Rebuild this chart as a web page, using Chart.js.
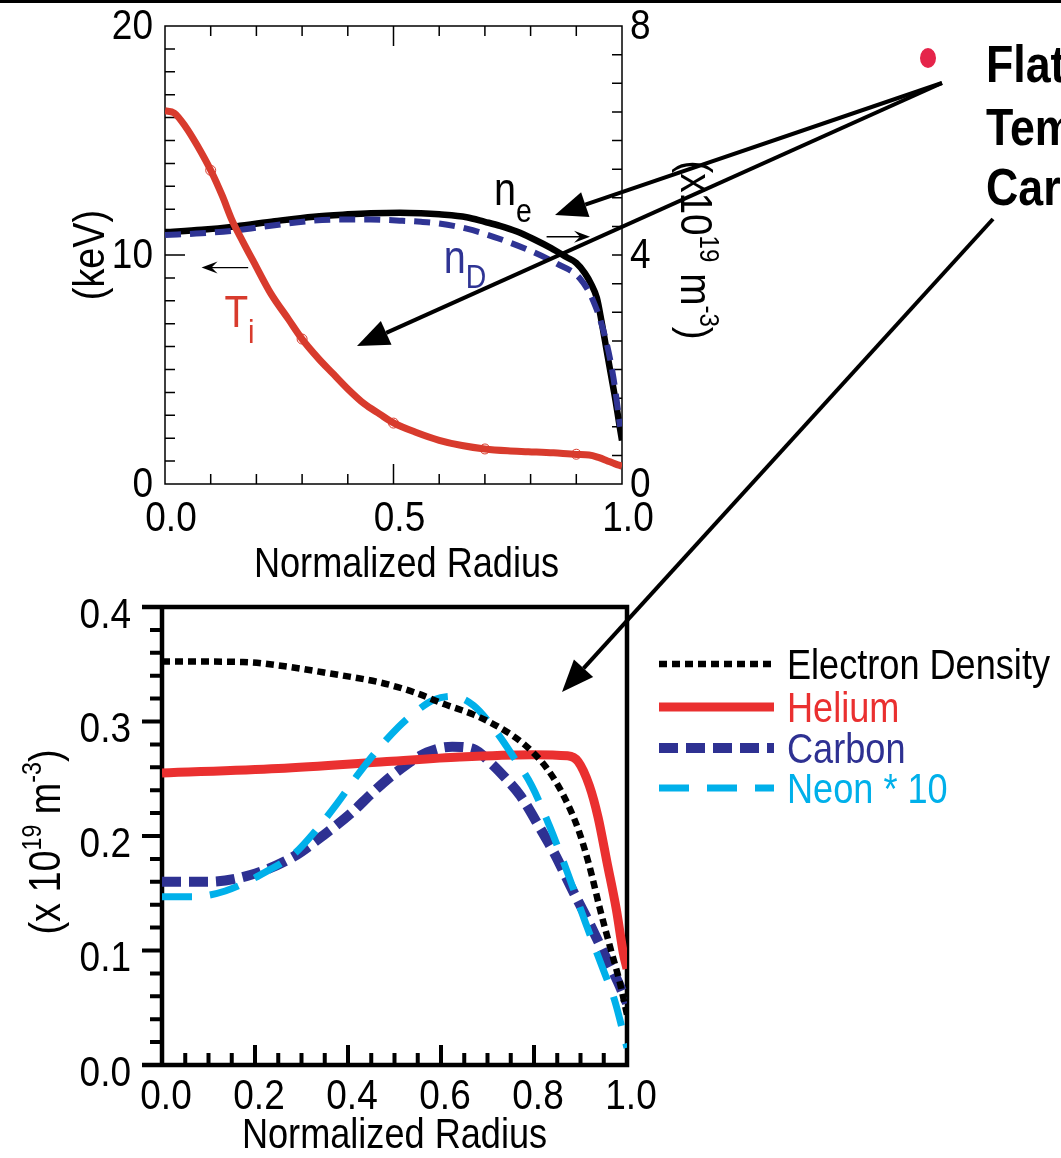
<!DOCTYPE html>
<html>
<head>
<meta charset="utf-8">
<script src="https://cdn.jsdelivr.net/npm/chart.js@4.4.1/dist/chart.umd.min.js"></script>
<style>
  html, body { margin: 0; padding: 0; background: #fff; }
  #page { position: relative; width: 1061px; height: 1158px; overflow: hidden; background: #fff; }
  #profiles { position: absolute; left: 0; top: 0; }
  #impurities { position: absolute; left: 0; top: 590px; }
  #notes { position: absolute; left: 0; top: 0; pointer-events: none; }
</style>
</head>
<body>
<div id="page">
  <canvas id="profiles" width="1061" height="590"></canvas>
  <canvas id="impurities" width="1061" height="568"></canvas>
  <canvas id="notes" width="1061" height="1158"></canvas>
</div>
<script>
const FONT = "'Liberation Sans', Arial, Helvetica, sans-serif";
const SQUEEZE = 0.86;   // narrow Helvetica look

// ---- upper panel: ion temperature (keV) and densities (1e19 m^-3) ----
const radiusTi = [0, 0.02, 0.045, 0.07, 0.1, 0.125, 0.147, 0.17, 0.194, 0.232, 0.27, 0.3, 0.335, 0.366, 0.4, 0.436, 0.47, 0.5, 0.55, 0.6, 0.65, 0.7, 0.75, 0.795, 0.85, 0.9, 0.928, 0.95, 0.967, 0.985, 1.0];
const ionTemp  = [16.3, 16.2, 15.6, 14.8, 13.7, 12.6, 11.5, 10.6, 9.7, 8.3, 7.2, 6.33, 5.5, 4.85, 4.15, 3.5, 3.05, 2.67, 2.25, 1.91, 1.68, 1.53, 1.45, 1.41, 1.36, 1.29, 1.27, 1.15, 1.02, 0.88, 0.78];

const markRadius = [0.1, 0.3, 0.5, 0.7, 0.9];
const markTemp   = [13.7, 6.33, 2.66, 1.53, 1.30];

const radiusNe = [0, 0.08, 0.155, 0.24, 0.326, 0.4, 0.45, 0.514, 0.56, 0.6, 0.66, 0.7, 0.733, 0.77, 0.806, 0.845, 0.879, 0.9, 0.919, 0.932, 0.945, 0.955, 0.966, 0.976, 0.986, 0.994, 1.0];
const densNe   = [4.40, 4.44, 4.50, 4.59, 4.67, 4.71, 4.73, 4.74, 4.73, 4.71, 4.66, 4.58, 4.51, 4.41, 4.28, 4.12, 3.96, 3.86, 3.68, 3.50, 3.25, 2.85, 2.35, 1.90, 1.45, 1.05, 0.76];

const radiusNd = [0, 0.08, 0.155, 0.24, 0.326, 0.4, 0.45, 0.514, 0.56, 0.6, 0.66, 0.733, 0.806, 0.857, 0.908, 0.937, 0.963, 0.981, 0.996];
const densNd   = [4.35, 4.38, 4.43, 4.52, 4.60, 4.62, 4.62, 4.60, 4.58, 4.55, 4.46, 4.28, 4.05, 3.85, 3.59, 3.20, 2.57, 1.87, 1.00];

const tempTicks = [0, 10, 20];
const densTicks = [0, 4, 8];

// ---- lower panel: impurity profiles (1e19 m^-3) ----
const radiusElec = [0, 0.174, 0.25, 0.36, 0.47, 0.546, 0.608, 0.67, 0.725, 0.779, 0.826, 0.864, 0.895, 0.919, 0.942, 0.965, 0.984, 1.0];
const elecDens   = [0.3525, 0.352, 0.349, 0.342, 0.334, 0.325, 0.315, 0.306, 0.295, 0.280, 0.260, 0.235, 0.206, 0.174, 0.136, 0.101, 0.073, 0.044];

const radiusHe = [0, 0.25, 0.484, 0.64, 0.795, 0.872, 0.895, 0.919, 0.938, 0.957, 0.977, 0.992, 1.0];
const heliumDens = [0.255, 0.259, 0.265, 0.269, 0.271, 0.270, 0.265, 0.244, 0.216, 0.177, 0.136, 0.098, 0.084];

const radiusC = [0, 0.097, 0.19, 0.283, 0.345, 0.407, 0.453, 0.508, 0.57, 0.624, 0.67, 0.709, 0.74, 0.771, 0.81, 0.845, 0.88, 0.919, 0.957, 0.98, 1.0];
const carbonDens = [0.160, 0.160, 0.166, 0.182, 0.200, 0.220, 0.238, 0.257, 0.273, 0.278, 0.276, 0.263, 0.250, 0.235, 0.209, 0.184, 0.155, 0.124, 0.092, 0.073, 0.054];

const radiusNeon = [0, 0.066, 0.136, 0.229, 0.283, 0.329, 0.376, 0.422, 0.461, 0.508, 0.547, 0.585, 0.624, 0.67, 0.717, 0.756, 0.795, 0.833, 0.872, 0.911, 0.95, 0.973, 1.0];
const neonDens10 = [0.147, 0.147, 0.152, 0.170, 0.184, 0.204, 0.228, 0.254, 0.274, 0.295, 0.309, 0.319, 0.322, 0.314, 0.292, 0.269, 0.244, 0.209, 0.168, 0.124, 0.082, 0.057, 0.015];

const speciesNames = ['Electron Density', 'Helium', 'Carbon', 'Neon * 10'];
const impurityTicks = [0, 0.1, 0.2, 0.3, 0.4];
const radiusTicks = [0, 0.2, 0.4, 0.6, 0.8, 1.0];

const RED_TI = '#d83b2d';
const BLUE_D = '#2f3494';
const RED_HE = '#ea3030';
const BLUE_C = '#2e3192';
const CYAN_NE = '#00b0ea';

const xy = (xs, ys) => xs.map((x, i) => ({ x, y: ys[i] }));

Chart.defaults.font.family = FONT;
Chart.defaults.color = '#000';

// plain text, narrowed horizontally
function text(ctx, str, x, y, size, o) {
  o = o || {};
  ctx.save();
  ctx.translate(x, y);
  ctx.rotate(o.angle || 0);
  ctx.scale(SQUEEZE, 1);
  ctx.font = (o.weight || '') + ' ' + size + 'px ' + FONT;
  ctx.fillStyle = o.color || '#000';
  ctx.textAlign = o.align || 'left';
  ctx.textBaseline = o.baseline || 'alphabetic';
  ctx.fillText(str, 0, 0);
  ctx.restore();
}

// text with superscript pieces, centred on (cx, cy), optionally rotated
function drawRich(ctx, parts, cx, cy, size, angle, color) {
  const small = Math.round(size * 0.62);
  ctx.save();
  ctx.translate(cx, cy);
  ctx.rotate(angle);
  ctx.scale(SQUEEZE, 1);
  ctx.fillStyle = color;
  ctx.textAlign = 'left';
  ctx.textBaseline = 'alphabetic';
  let w = 0;
  for (const [t, sup] of parts) {
    ctx.font = (sup ? small : size) + 'px ' + FONT;
    w += ctx.measureText(t).width;
  }
  let px = -w / 2;
  const base = size * 0.36;
  for (const [t, sup] of parts) {
    ctx.font = (sup ? small : size) + 'px ' + FONT;
    ctx.fillText(t, px, sup ? base - size * 0.42 : base);
    px += ctx.measureText(t).width;
  }
  ctx.restore();
}

// letter with a subscript, left edge at x, baseline at y
function drawSub(ctx, main, sub, x, y, size, subSize, drop, color) {
  ctx.save();
  ctx.translate(x, y);
  ctx.scale(SQUEEZE, 1);
  ctx.fillStyle = color;
  ctx.textAlign = 'left';
  ctx.textBaseline = 'alphabetic';
  ctx.font = size + 'px ' + FONT;
  ctx.fillText(main, 0, 0);
  const w = ctx.measureText(main).width;
  ctx.font = subSize + 'px ' + FONT;
  ctx.fillText(sub, w, drop);
  ctx.restore();
}

// thin arrow with a barbed head
function smallArrow(ctx, x0, y, x1) {
  const dir = Math.sign(x1 - x0);
  ctx.save();
  ctx.strokeStyle = '#000';
  ctx.fillStyle = '#000';
  ctx.lineWidth = 1.4;
  ctx.beginPath();
  ctx.moveTo(x0, y);
  ctx.lineTo(x1 - dir * 8, y);
  ctx.stroke();
  ctx.beginPath();
  ctx.moveTo(x1, y);
  ctx.lineTo(x1 - dir * 16, y - 6);
  ctx.lineTo(x1 - dir * 10, y);
  ctx.lineTo(x1 - dir * 16, y + 6);
  ctx.closePath();
  ctx.fill();
  ctx.restore();
}

const TICK_SIZE = 43;

const profileDecor = {
  id: 'profileDecor',
  beforeDatasetsDraw(chart) {
    const { ctx, chartArea: a, scales: { x, y, y1 } } = chart;
    ctx.save();
    ctx.strokeStyle = '#000';
    ctx.lineWidth = 1.5;
    ctx.strokeRect(a.left, a.top, a.right - a.left, a.bottom - a.top);
    ctx.beginPath();
    for (let k = 1; k < 20; k++) {
      const p = y.getPixelForValue(k);
      const len = k % 10 === 0 ? 20 : 10;
      ctx.moveTo(a.left, p); ctx.lineTo(a.left + len, p);
    }
    for (let k = 1; k < 16; k++) {
      const p = y1.getPixelForValue(k * 0.5);
      ctx.moveTo(a.right, p); ctx.lineTo(a.right - 10, p);
    }
    for (let k = 1; k < 10; k++) {
      const p = x.getPixelForValue(k / 10);
      const len = k === 5 ? 20 : 10;
      ctx.moveTo(p, a.bottom); ctx.lineTo(p, a.bottom - len);
      ctx.moveTo(p, a.top); ctx.lineTo(p, a.top + len);
    }
    ctx.stroke();
    ctx.restore();
  },
  afterDraw(chart) {
    const { ctx, chartArea: a, scales: { x, y, y1 } } = chart;
    const midY = (a.top + a.bottom) / 2;
    // tick labels from the scales
    x.ticks.forEach(t => text(ctx, t.value.toFixed(1), x.getPixelForValue(t.value) + 6, a.bottom + 35, TICK_SIZE,
      { align: 'center', baseline: 'middle' }));
    y.ticks.forEach(t => text(ctx, String(t.value), a.left - 12, y.getPixelForValue(t.value) + 1, TICK_SIZE,
      { align: 'right', baseline: 'middle' }));
    y1.ticks.forEach(t => text(ctx, String(t.value), a.right + 8, y1.getPixelForValue(t.value) + 1, TICK_SIZE,
      { align: 'left', baseline: 'middle' }));
    // axis titles
    drawRich(ctx, [['Normalized Radius', false]], (a.left + a.right) / 2 + 13, a.bottom + 78, 42, 0, '#000');
    drawRich(ctx, [['(keV)', false]], 88, midY, 44, -Math.PI / 2, '#000');
    drawRich(ctx, [['(x10', false], ['19', true], [' m', false], ['-3', true], [')', false]],
      a.right + 75, midY - 5, 45, Math.PI / 2, '#000');
    // curve labels
    drawSub(ctx, 'n', 'e', x.getPixelForValue(0.72), y.getPixelForValue(12.2), 46, 33, 17, '#000');
    drawSub(ctx, 'n', 'D', x.getPixelForValue(0.61), y.getPixelForValue(9.2), 46, 33, 15, BLUE_D);
    drawSub(ctx, 'T', 'i', x.getPixelForValue(0.13), y.getPixelForValue(6.85), 45, 34, 16, RED_TI);
    // which axis each family belongs to
    smallArrow(ctx, x.getPixelForValue(0.182), y.getPixelForValue(9.45), x.getPixelForValue(0.08));
    smallArrow(ctx, x.getPixelForValue(0.835), y.getPixelForValue(10.8), x.getPixelForValue(0.93));
  }
};

const hiddenTicks = { display: false };

new Chart(document.getElementById('profiles'), {
  type: 'line',
  data: {
    datasets: [
      { label: 'T_i points', data: xy(markRadius, markTemp), yAxisID: 'y', showLine: false,
        pointRadius: 5, pointBorderWidth: 1, pointBorderColor: RED_TI, pointBackgroundColor: 'rgba(0,0,0,0)', order: 0 },
      { label: 'T_i', data: xy(radiusTi, ionTemp), yAxisID: 'y', borderColor: RED_TI, borderWidth: 7,
        cubicInterpolationMode: 'monotone', pointRadius: 0, order: 1 },
      { label: 'n_D', data: xy(radiusNd, densNd), yAxisID: 'y1', borderColor: BLUE_D, borderWidth: 6,
        borderDash: [16, 9], cubicInterpolationMode: 'monotone', pointRadius: 0, order: 2 },
      { label: 'n_e', data: xy(radiusNe, densNe), yAxisID: 'y1', borderColor: '#000', borderWidth: 6.5,
        cubicInterpolationMode: 'monotone', pointRadius: 0, order: 3 }
    ]
  },
  options: {
    responsive: false,
    animation: false,
    events: [],
    layout: { padding: { top: 26, right: 349, bottom: 0, left: 0 } },
    plugins: { legend: { display: false }, tooltip: { enabled: false } },
    scales: {
      x: {
        type: 'linear', min: 0, max: 1,
        grid: { display: false, drawTicks: false }, border: { display: false },
        ticks: { ...hiddenTicks, stepSize: 0.5 },
        afterFit: s => { s.height = 106; }
      },
      y: {
        position: 'left', min: tempTicks[0], max: tempTicks[tempTicks.length - 1],
        grid: { display: false, drawTicks: false }, border: { display: false },
        ticks: { ...hiddenTicks, stepSize: tempTicks[1] - tempTicks[0] },
        afterFit: s => { s.width = 165; }
      },
      y1: {
        position: 'right', min: densTicks[0], max: densTicks[densTicks.length - 1],
        grid: { display: false, drawTicks: false }, border: { display: false },
        ticks: { ...hiddenTicks, stepSize: densTicks[1] - densTicks[0] },
        afterFit: s => { s.width = 90; }
      }
    }
  },
  plugins: [profileDecor]
});

const impurityDecor = {
  id: 'impurityDecor',
  beforeDatasetsDraw(chart) {
    const { ctx, chartArea: a, scales: { x, y } } = chart;
    ctx.save();
    ctx.strokeStyle = '#000';
    ctx.lineJoin = 'miter';
    ctx.lineWidth = 4.5;
    ctx.beginPath();
    ctx.moveTo(a.left - 20, a.top); ctx.lineTo(a.right, a.top);
    ctx.lineTo(a.right, a.bottom); ctx.lineTo(a.left - 20, a.bottom);
    ctx.moveTo(a.left, a.top); ctx.lineTo(a.left, a.bottom);
    ctx.stroke();
    ctx.lineWidth = 4;
    ctx.beginPath();
    for (let k = 1; k < 20; k++) {
      const p = y.getPixelForValue(k * 0.02);
      const len = k % 5 === 0 ? 20 : 12;
      ctx.moveTo(a.left - len, p); ctx.lineTo(a.left, p);
    }
    for (let k = 1; k < 20; k++) {
      const p = x.getPixelForValue(k * 0.05);
      const len = k % 4 === 0 ? 20 : 12;
      ctx.moveTo(p, a.bottom); ctx.lineTo(p, a.bottom - len);
    }
    ctx.stroke();
    ctx.restore();
  },
  afterDraw(chart) {
    const { ctx, chartArea: a, scales: { x, y } } = chart;
    x.ticks.forEach(t => text(ctx, t.value.toFixed(1), x.getPixelForValue(t.value) + 4, a.bottom + 32, TICK_SIZE,
      { align: 'center', baseline: 'middle' }));
    y.ticks.forEach(t => text(ctx, t.value.toFixed(1), a.left - 31, y.getPixelForValue(t.value) + 9, TICK_SIZE,
      { align: 'right', baseline: 'middle' }));
    drawRich(ctx, [['Normalized Radius', false]], (a.left + a.right) / 2, a.bottom + 68, 42, 0, '#000');
    drawRich(ctx, [['(x 10', false], ['19', true], [' m', false], ['-3', true], [')', false]],
      44, (a.top + a.bottom) / 2 + 6, 44, -Math.PI / 2, '#000');
    // legend built from the datasets
    const rowY = [74, 117, 158, 198];
    chart.data.datasets.forEach((ds, i) => {
      const yy = rowY[i];
      ctx.save();
      ctx.strokeStyle = ds.borderColor;
      ctx.lineWidth = ds.borderWidth;
      ctx.setLineDash(ds.borderDash || []);
      ctx.beginPath();
      ctx.moveTo(659, yy); ctx.lineTo(774, yy);
      ctx.stroke();
      ctx.restore();
      text(ctx, ds.label, 787, yy + 15, 42, { color: ds.borderColor });
    });
  }
};

new Chart(document.getElementById('impurities'), {
  type: 'line',
  data: {
    datasets: [
      { label: speciesNames[0], data: xy(radiusElec, elecDens), borderColor: '#000', borderWidth: 6.5,
        borderDash: [8, 5], cubicInterpolationMode: 'monotone', pointRadius: 0, order: 0 },
      { label: speciesNames[1], data: xy(radiusHe, heliumDens), borderColor: RED_HE, borderWidth: 9,
        cubicInterpolationMode: 'monotone', pointRadius: 0, order: 2 },
      { label: speciesNames[2], data: xy(radiusC, carbonDens), borderColor: BLUE_C, borderWidth: 10,
        borderDash: [19, 8], cubicInterpolationMode: 'monotone', pointRadius: 0, order: 3 },
      { label: speciesNames[3], data: xy(radiusNeon, neonDens10), borderColor: CYAN_NE, borderWidth: 7,
        borderDash: [30, 18], cubicInterpolationMode: 'monotone', pointRadius: 0, order: 1 }
    ]
  },
  options: {
    responsive: false,
    animation: false,
    events: [],
    layout: { padding: { top: 17, right: 434, bottom: 0, left: 0 } },
    plugins: { legend: { display: false }, tooltip: { enabled: false } },
    scales: {
      x: {
        type: 'linear', min: radiusTicks[0], max: radiusTicks[radiusTicks.length - 1],
        grid: { display: false, drawTicks: false }, border: { display: false },
        ticks: { ...hiddenTicks, stepSize: radiusTicks[1] - radiusTicks[0] },
        afterFit: s => { s.height = 93; }
      },
      y: {
        min: impurityTicks[0], max: impurityTicks[impurityTicks.length - 1],
        grid: { display: false, drawTicks: false }, border: { display: false },
        ticks: { ...hiddenTicks, stepSize: impurityTicks[1] - impurityTicks[0] },
        afterFit: s => { s.width = 162; }
      }
    }
  },
  plugins: [impurityDecor]
});

// ---- page annotations: callout text and arrows ----
(function () {
  const ctx = document.getElementById('notes').getContext('2d');
  ctx.fillStyle = '#000';
  ctx.fillRect(0, 0, 1061, 3);

  ctx.fillStyle = '#e5244a';
  ctx.beginPath();
  ctx.ellipse(928, 58, 8, 10, 0, 0, Math.PI * 2);
  ctx.fill();

  text(ctx, 'Flat', 986, 82, 52, { weight: 'bold' });
  text(ctx, 'Tem', 986, 145, 52, { weight: 'bold' });
  text(ctx, 'Car', 986, 205, 52, { weight: 'bold' });

  function bigArrow(x0, y0, x1, y1) {
    const ang = Math.atan2(y1 - y0, x1 - x0);
    const len = 32, half = 13;
    const bx = x1 - len * Math.cos(ang), by = y1 - len * Math.sin(ang);
    ctx.strokeStyle = '#000';
    ctx.fillStyle = '#000';
    ctx.lineWidth = 4;
    ctx.beginPath();
    ctx.moveTo(x0, y0);
    ctx.lineTo(bx, by);
    ctx.stroke();
    ctx.beginPath();
    ctx.moveTo(x1, y1);
    ctx.lineTo(bx + half * Math.sin(ang), by - half * Math.cos(ang));
    ctx.lineTo(bx - half * Math.sin(ang), by + half * Math.cos(ang));
    ctx.closePath();
    ctx.fill();
  }
  bigArrow(942, 83, 555, 215);
  bigArrow(942, 83, 357, 346);
  bigArrow(993, 219, 562, 692);
})();
</script>
</body>
</html>
